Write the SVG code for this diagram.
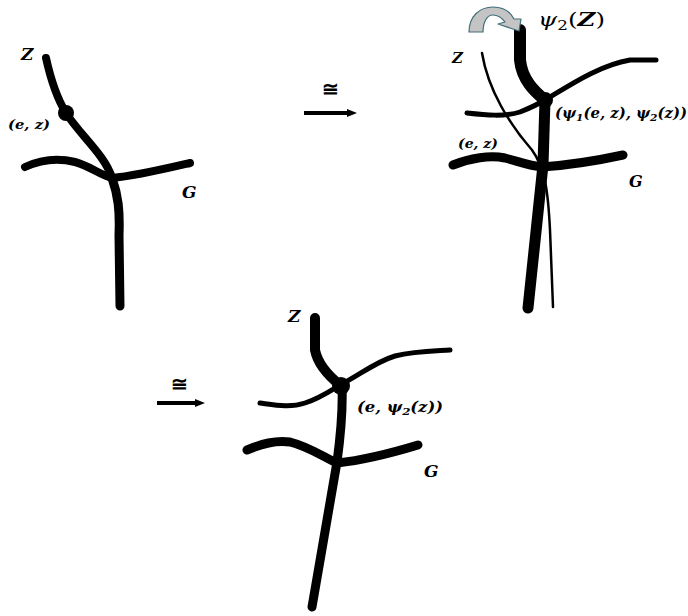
<svg xmlns="http://www.w3.org/2000/svg" width="688" height="616" viewBox="0 0 688 616">
<style>
.b{fill:none;stroke:#000;stroke-linecap:round;stroke-linejoin:round}
.lbl{font-family:"DejaVu Serif","Liberation Serif",serif;font-style:italic;font-weight:bold;fill:#000}
.sm{font-family:"DejaVu Serif","Liberation Serif",serif;font-style:italic;fill:#000}
.cong{font-family:"DejaVu Serif",serif;fill:#000}
</style>
<defs>
<marker id="ah" markerUnits="userSpaceOnUse" markerWidth="12" markerHeight="10" refX="2" refY="5" orient="auto">
<path d="M0,1 L10,5 L0,9 Z" fill="#000"/>
</marker>
</defs>
<rect width="688" height="616" fill="#fff"/>

<g id="panel1">
<path class="b" stroke-width="8" d="M46,58 C52,85 58,100 66,113 C80,135 105,155 112,178"/>
<path class="b" stroke-width="8" d="M25,167 C40,160 55,157 75,162 C90,166 100,175 112,178 C135,176 160,170 190,163"/>
<path class="b" stroke-width="9" d="M112,178 C118,195 120,210 119,235 L120,306"/>
<circle cx="66" cy="113" r="8" fill="#000"/>
<text class="lbl" x="21" y="60" font-size="17">Z</text>
<text class="lbl" x="8" y="129" font-size="12" font-weight="normal" textLength="42" lengthAdjust="spacingAndGlyphs">(e, z)</text>
<text class="lbl" x="182" y="198" font-size="17">G</text>
</g>

<g id="arrow1">
<text class="cong" x="330" y="96" font-size="20" font-weight="bold" text-anchor="middle">≅</text>
<line x1="304" y1="113" x2="349" y2="113" stroke="#000" stroke-width="4" marker-end="url(#ah)"/>
</g>

<g id="panel2">
<path class="b" stroke-width="2.5" d="M482,53 C488,90 510,125 532,150 C545,168 548,190 550,230 L553,307"/>
<path class="b" stroke-width="12" d="M520,30 L520,60 C522,80 535,92 545,100"/>
<path class="b" stroke-width="5" d="M545,100 C570,85 600,65 630,60 L656,60"/>
<path class="b" stroke-width="5" d="M467,113 C485,115 505,117 520,112 C530,108 540,103 545,100"/>
<path class="b" stroke-width="11" d="M545,100 L543,165 L528,308"/>
<path class="b" stroke-width="9" d="M453,165 C470,158 490,155 505,158 C520,162 530,166 542,167 C570,165 600,160 623,155"/>
<circle cx="545" cy="100" r="8" fill="#000"/>
<path d="M469,32 C469,16 480,7 493,7 C505,7 511,13 514,19 L521,19 L519,31 L498,24 L505,22 C502,18 498,15 493,15 C487,15 483,22 483,32 Z" fill="#c4c4c4" stroke="#3f6f7a" stroke-width="1.2" stroke-linejoin="round"/>
<text class="sm" x="538" y="26" font-size="19" textLength="67" lengthAdjust="spacingAndGlyphs">ψ<tspan font-size="13" dy="4" font-style="normal">2</tspan><tspan dy="-4" font-style="normal">(</tspan><tspan font-weight="bold">Z</tspan><tspan font-style="normal">)</tspan></text>
<text class="lbl" x="452" y="63" font-size="15">Z</text>
<text class="lbl" x="458" y="148" font-size="13" font-weight="normal" textLength="40" lengthAdjust="spacingAndGlyphs">(e, z)</text>
<text class="lbl" x="555" y="118" font-size="14" textLength="132" lengthAdjust="spacingAndGlyphs">(ψ<tspan font-size="10" dy="3">1</tspan><tspan dy="-3">(e, z), ψ</tspan><tspan font-size="10" dy="3">2</tspan><tspan dy="-3">(z))</tspan></text>
<text class="lbl" x="629" y="187" font-size="16">G</text>
</g>

<g id="arrow2">
<text class="cong" x="179" y="391" font-size="20" font-weight="bold" text-anchor="middle">≅</text>
<line x1="157" y1="403" x2="197" y2="403" stroke="#000" stroke-width="4" marker-end="url(#ah)"/>
</g>

<g id="panel3">
<path class="b" stroke-width="10" d="M315,318 L315,350 C318,365 330,377 340,385"/>
<path class="b" stroke-width="5" d="M340,385 C360,375 375,362 395,356 C415,351 435,351 450,350"/>
<path class="b" stroke-width="5" d="M260,403 C275,405 290,408 305,403 C320,398 330,391 340,385"/>
<path class="b" stroke-width="9" d="M342,385 C343,410 340,440 337,462 L312,607"/>
<path class="b" stroke-width="9" d="M247,450 C262,444 275,440 290,442 C310,447 325,458 337,463 C365,460 395,452 418,445"/>
<circle cx="341" cy="386" r="9" fill="#000"/>
<text class="lbl" x="288" y="322" font-size="17">Z</text>
<text class="lbl" x="357" y="412" font-size="14" textLength="86" lengthAdjust="spacingAndGlyphs">(e, ψ<tspan font-size="10" dy="3">2</tspan><tspan dy="-3">(z))</tspan></text>
<text class="lbl" x="424" y="477" font-size="17">G</text>
</g>
</svg>
